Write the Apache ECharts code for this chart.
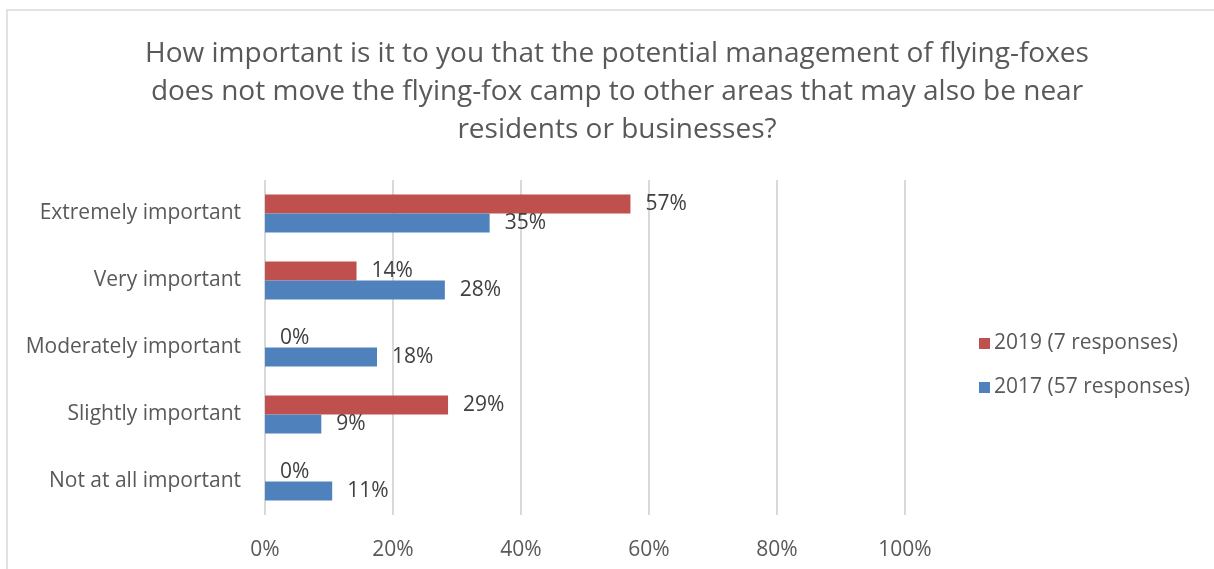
<!DOCTYPE html>
<html>
<head>
<meta charset="utf-8">
<script src="https://cdn.jsdelivr.net/npm/echarts@6/dist/echarts.min.js"></script>
<style>
html,body{margin:0;padding:0;background:#fff;}
#chart{width:1214px;height:569px;}
</style>
</head>
<body>
<div id="chart"></div>
<script>
const categories = ['Extremely important','Very important','Moderately important','Slightly important','Not at all important'];
const seriesNames = ['2019 (7 responses)','2017 (57 responses)'];
const values2019 = [57.1, 14.3, 0, 28.6, 0];
const values2017 = [35.1, 28.1, 17.5, 8.8, 10.5];
const xTicks = [0, 20, 40, 60, 80, 100];
const titleText = 'How important is it to you that the potential management of flying-foxes\ndoes not move the flying-fox camp to other areas that may also be near\nresidents or businesses?';

const FONT = '"Open Sans", sans-serif';
const chart = echarts.init(document.getElementById('chart'), null, {renderer:'canvas'});
const labelCfg = {
  show: true, position: 'right', distance: 15,
  color: '#404040', fontSize: 21, fontFamily: FONT, padding: [6,0,0,0],
  formatter: p => Math.round(p.value) + '%'
};
chart.setOption({
  animation: false,
  backgroundColor: '#fff',
  graphic: [{
    type: 'rect', silent: true,
    shape: {x: 7, y: 10, width: 1230, height: 580},
    style: {fill: 'none', stroke: '#d9d9d9', lineWidth: 1.5}
  }],
  title: {
    text: titleText,
    left: 612, top: 30, textAlign: 'center',
    textStyle: {color: '#595959', fontSize: 28, fontWeight: 'normal', fontFamily: FONT, lineHeight: 38}
  },
  legend: {
    orient: 'vertical', left: 974, top: 328, itemGap: 23,
    itemWidth: 11, itemHeight: 11, icon: 'rect',
    textStyle: {color: '#595959', fontSize: 21, fontFamily: FONT, padding: [0,0,0,-1]},
    data: seriesNames
  },
  grid: {left: 265, right: 309, top: 180, bottom: 54},
  xAxis: {
    type: 'value', min: 0, max: 100, interval: 20,
    axisLine: {show: false}, axisTick: {show: false},
    splitLine: {lineStyle: {color: '#d9d9d9', width: 2}},
    axisLabel: {color: '#595959', fontSize: 21, fontFamily: FONT, margin: 25,
      formatter: v => xTicks.includes(v) ? v + '%' : ''}
  },
  yAxis: {
    type: 'category', data: categories, inverse: true,
    axisLine: {show: false}, axisTick: {show: false},
    axisLabel: {color: '#595959', fontSize: 21, fontFamily: FONT, margin: 24, padding: [6,0,0,0]}
  },
  series: [
    {name: seriesNames[0], type: 'bar', data: values2019, barWidth: 19, barGap: '0%',
     itemStyle: {color: '#c0504d'}, label: labelCfg},
    {name: seriesNames[1], type: 'bar', data: values2017, barWidth: 19, barGap: '0%',
     itemStyle: {color: '#4f81bd'}, label: labelCfg}
  ]
});
</script>
</body>
</html>
